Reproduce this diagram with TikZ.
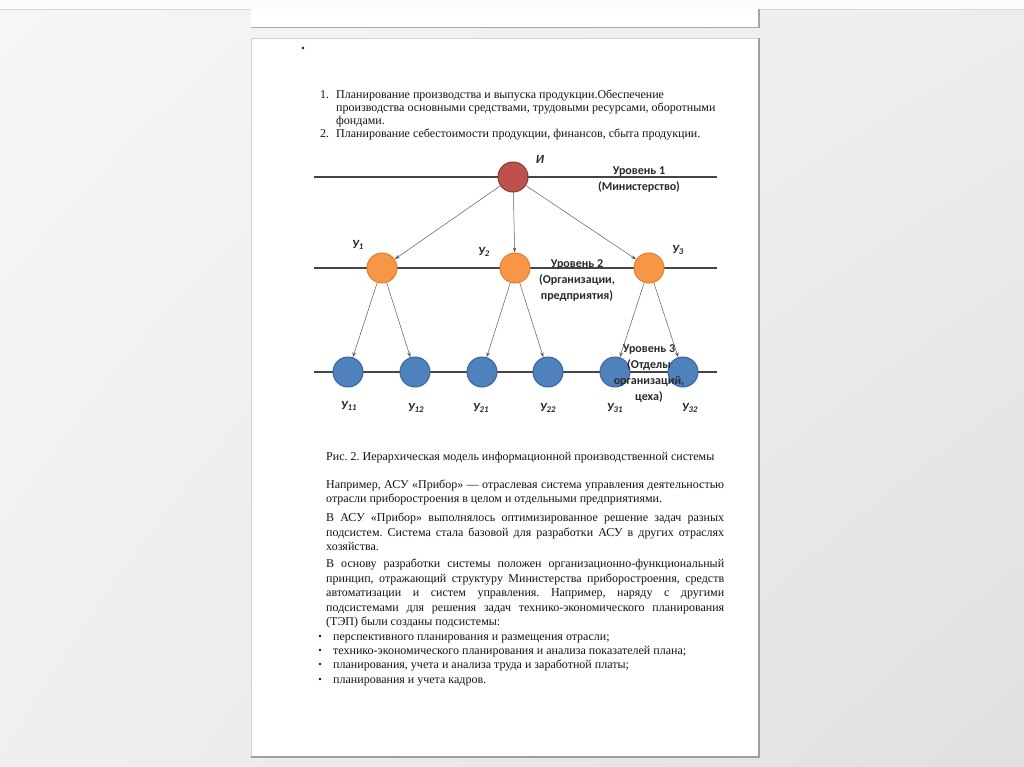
\documentclass[tikz,border=0pt]{standalone}
\usepackage{fontspec}
\setmainfont{Liberation Serif}
\newfontfamily\carl{Carlito}
\usetikzlibrary{arrows.meta,shadings}
\frenchspacing
\definecolor{bgA}{HTML}{F6F6F6}
\definecolor{bgB}{HTML}{E0E0E0}
\definecolor{lineC}{HTML}{454545}
\definecolor{arrC}{HTML}{5A5A5A}
\definecolor{redF}{HTML}{C0504D}
\definecolor{redD}{HTML}{8C3836}
\definecolor{oraF}{HTML}{F79646}
\definecolor{oraD}{HTML}{E2802E}
\definecolor{bluF}{HTML}{4F81BD}
\definecolor{bluD}{HTML}{3C6699}
\definecolor{txtC}{HTML}{141414}
\definecolor{lblC}{HTML}{2A2A2A}
\colorlet{bgM1}{bgA!60!bgB}
\colorlet{bgM2}{bgA!70!bgB}
\newcommand{\jl}[1]{\makebox[398pt][s]{#1}}
\begin{document}
\begin{tikzpicture}[x=1pt,y=-1pt,
  lvl/.style={draw=lineC,line width=1.4pt},
  circ/.style={circle,minimum size=30pt,inner sep=0pt,line width=1pt},
  rnode/.style={circ,fill=redF,draw=redD},
  onode/.style={circ,fill=oraF,draw=oraD},
  bnode/.style={circ,fill=bluF,draw=bluD},
  arr/.style={draw=arrC,line width=0.5pt,-{Stealth[length=5pt,width=3.5pt]}},
  body/.style={anchor=base west,inner sep=0pt,text=txtC,font=\frenchspacing\fontsize{12}{14}\selectfont},
  lbl/.style={inner sep=0pt,text=lblC,font=\carl\bfseries\fontsize{12}{16}\selectfont,align=center},
  ulbl/.style={inner sep=0pt,text=lblC,font=\carl\bfseries\itshape\fontsize{12.5}{14}\selectfont}]
\useasboundingbox (0,0) rectangle (1024,767);
% background
\shade[upper left=bgA,upper right=bgM1,lower left=bgM2,lower right=bgB] (0,0) rectangle (1024,767);
\fill[bgA!40!white] (0,0) rectangle (1024,9);
\draw[gray!30,line width=0.6pt] (0,9) -- (1024,9);
% upper page fragment
\fill[white] (251,9) rectangle (759,27);
\draw[gray!70,line width=1.2pt] (251,27.5) -- (759,27.5) -- (759,9);
% main page
\fill[white] (251,38) rectangle (759,757);
\draw[gray!35,line width=0.6pt] (251,757) -- (251,38) -- (759,38);
\draw[gray!75,line width=1.5pt] (759,38) -- (759,757) -- (251,757);
% stray bullet
\fill[txtC] (303,48) circle (1.4);
% numbered list
\node[body] (n1) at (320,99) {1.};
\node[body] (t1a) at (336,99) {Планирование производства и выпуска продукции.Обеспечение};
\node[body] (t1b) at (336,112) {производства основными средствами, трудовыми ресурсами, оборотными};
\node[body] (t1c) at (336,125) {фондами.};
\node[body] (n2) at (320,138) {2.};
\node[body] (t2a) at (336,138) {Планирование себестоимости продукции, финансов, сбыта продукции.};
% level lines
\coordinate (l1a) at (314,177); \coordinate (l1b) at (717,177);
\coordinate (l2a) at (314,268); \coordinate (l2b) at (717,268);
\coordinate (l3a) at (314,372); \coordinate (l3b) at (717,372);
\draw[lvl] (l1a) -- (l1b);
\draw[lvl] (l2a) -- (l2b);
\draw[lvl] (l3a) -- (l3b);
% nodes
\node[rnode] (I) at (513,177) {};
\node[onode] (o1) at (382,268) {};
\node[onode] (o2) at (515,268) {};
\node[onode] (o3) at (649,268) {};
\node[bnode] (b11) at (348,372) {};
\node[bnode] (b12) at (415,372) {};
\node[bnode] (b21) at (482,372) {};
\node[bnode] (b22) at (548,372) {};
\node[bnode] (b31) at (615,372) {};
\node[bnode] (b32) at (683,372) {};
% connectors
\draw[arr] (I) -- (o1);
\draw[arr] (I) -- (o2);
\draw[arr] (I) -- (o3);
\draw[arr] (o1) -- (b11);
\draw[arr] (o1) -- (b12);
\draw[arr] (o2) -- (b21);
\draw[arr] (o2) -- (b22);
\draw[arr] (o3) -- (b31);
\draw[arr] (o3) -- (b32);
% labels
\node[ulbl] (lI) at (540,159) {И};
\node[ulbl] (lo1) at (358,245) {У\textsubscript{1}};
\node[ulbl] (lo2) at (484,252) {У\textsubscript{2}};
\node[ulbl] (lo3) at (678,250) {У\textsubscript{3}};
\node[ulbl] (lb11) at (349,406) {У\textsubscript{11}};
\node[ulbl] (lb12) at (416,408) {У\textsubscript{12}};
\node[ulbl] (lb21) at (481,408) {У\textsubscript{21}};
\node[ulbl] (lb22) at (548,408) {У\textsubscript{22}};
\node[ulbl] (lb31) at (615,408) {У\textsubscript{31}};
\node[ulbl] (lb32) at (690,408) {У\textsubscript{32}};
\node[lbl,anchor=north] (lv1) at (639,167) {Уровень 1\\(Министерство)};
\node[lbl,anchor=north] (lv2) at (577,259) {Уровень 2\\(Организации,\\предприятия)};
\node[lbl,anchor=north] (lv3) at (649,344) {Уровень 3\\(Отделы\\организаций,\\цеха)};
% caption and paragraphs
\node[body] (cap) at (326,460) {Рис. 2. Иерархическая модель информационной производственной системы};
\node[body] (p1a) at (326,488) {\jl{Например, АСУ «Прибор» — отраслевая система управления деятельностью}};
\node[body] (p1b) at (326,502) {отрасли приборостроения в целом и отдельными предприятиями.};
\node[body] (p2a) at (326,521) {\jl{В АСУ «Прибор» выполнялось оптимизированное решение задач разных}};
\node[body] (p2b) at (326,536) {\jl{подсистем. Система стала базовой для разработки АСУ в других отраслях}};
\node[body] (p2c) at (326,550) {хозяйства.};
\node[body] (p3a) at (326,567) {\jl{В основу разработки системы положен организационно-функциональный}};
\node[body] (p3b) at (326,582) {\jl{принцип, отражающий структуру Министерства приборостроения, средств}};
\node[body] (p3c) at (326,596) {\jl{автоматизации и систем управления. Например, наряду с другими}};
\node[body] (p3d) at (326,611) {\jl{подсистемами для решения задач технико-экономического планирования}};
\node[body] (p3e) at (326,625) {(ТЭП) были созданы подсистемы:};
% bullets
\foreach \yy/\nm/\tx in {640/ba/{перспективного планирования и размещения отрасли;},
  654/bb/{технико-экономического планирования и анализа показателей плана;},
  668/bc/{планирования, учета и анализа труда и заработной платы;},
  683/bd/{планирования и учета кадров.}}{
  \fill[txtC] (320,\yy-4) circle (1.3);
  \node[body] (\nm) at (333,\yy) {\tx};
}
\end{tikzpicture}
\end{document}
